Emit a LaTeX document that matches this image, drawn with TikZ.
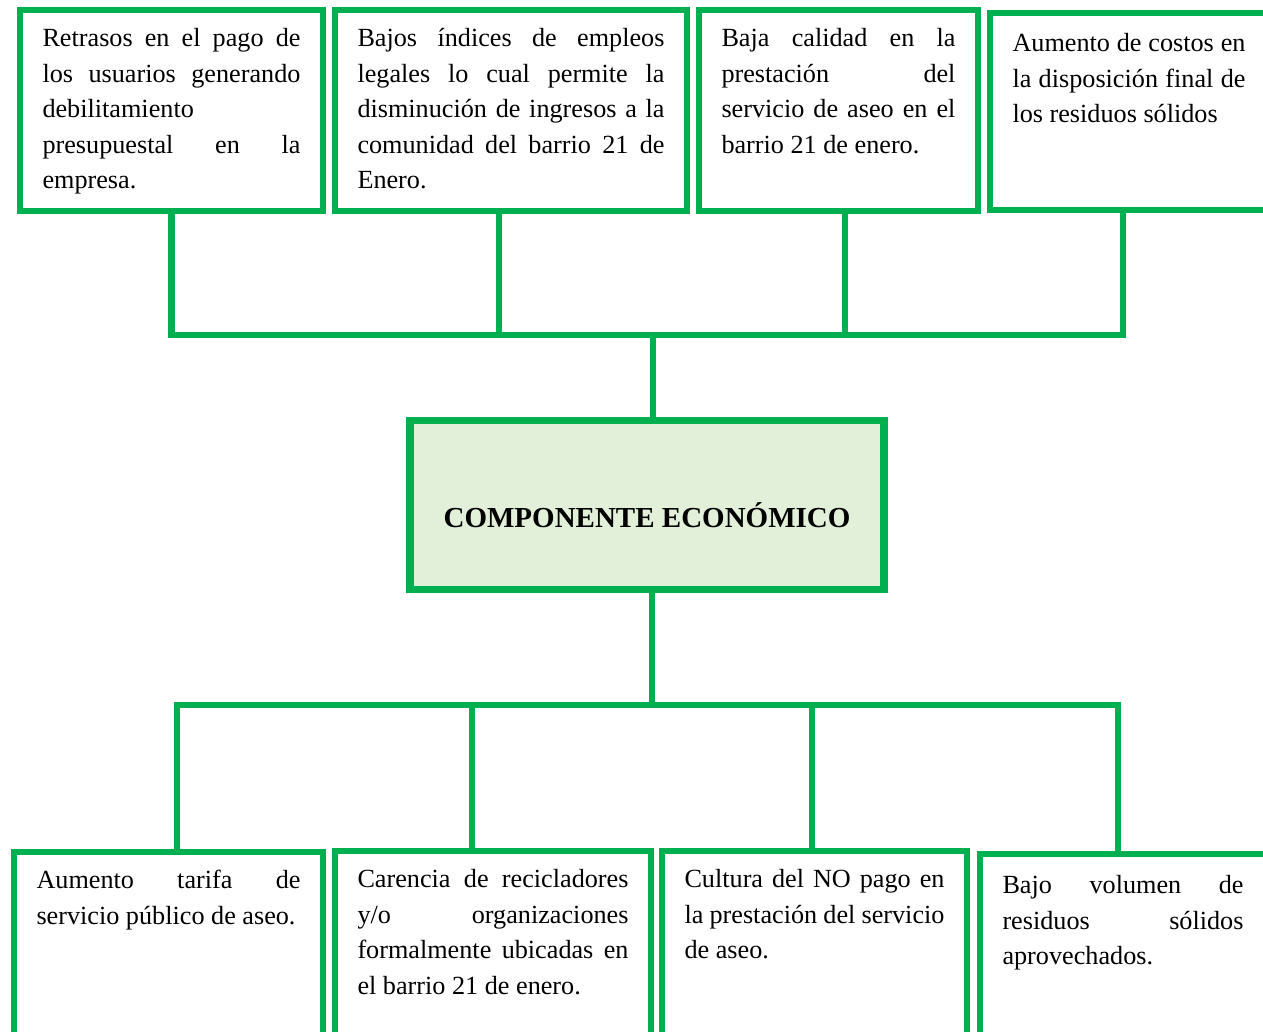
\documentclass[tikz,border=0pt]{standalone}
\usepackage{fontspec}
\setmainfont{Liberation Serif}
\usepackage{tikz}
\definecolor{verde}{RGB}{0,176,80}
\definecolor{verdeclaro}{RGB}{226,239,217}
\tolerance=9999
\hyphenpenalty=10000

\begin{document}
\begin{tikzpicture}[x=0.5pt, y=-0.5pt,
	caja/.style={draw=verde, line width=3pt, anchor=north west, outer sep=0pt,
		inner xsep=11.25pt, inner ysep=6pt, font=\fontsize{13.1}{17.75}\selectfont},
	central/.style={draw=verde, line width=3.6pt, fill=verdeclaro, outer sep=0pt,
		minimum width=237pt, minimum height=84.5pt, text height=22pt, text depth=0pt,
		font=\fontsize{14.5}{17}\selectfont\bfseries},
	enlace/.style={draw=verde, line width=3.2pt}]
		\useasboundingbox (0,0) rectangle (1263,1032);
		\clip (0,0) rectangle (1263,1032);
		% causas arriba
		\node[caja] (c1) at (20,10) {\parbox[t][88.5pt][t]{129pt}{\strut Retrasos en el pago de\linebreak los usuarios generando\linebreak debilitamiento\newline presupuestal en la\linebreak empresa.}};
		\node[caja] (c2) at (335,10) {\parbox[t][88.5pt][t]{153.5pt}{\strut Bajos índices de empleos\linebreak legales lo cual permite la\linebreak disminución de ingresos a la\linebreak comunidad del barrio 21 de\linebreak Enero.}};
		\node[caja] (c3) at (699,10) {\parbox[t][88.5pt][t]{117pt}{\strut Baja calidad en la\linebreak prestación del\linebreak servicio de aseo en el\linebreak barrio 21 de enero.}};
		\node[caja, inner ysep=7pt] (c4) at (990,13) {\parbox[t][84.5pt][t]{116.5pt}{\strut Aumento de costos en\linebreak la disposición final de\linebreak los residuos sólidos}};
		% componente
		\node[central] (centro) at (647,505) {COMPONENTE ECONÓMICO};
		% efectos abajo
		\node[caja] (c5) at (14,852) {\parbox[t][104pt][t]{132pt}{\strut Aumento tarifa de\linebreak servicio público de aseo.}};
		\node[caja] (c6) at (335,851) {\parbox[t][104pt][t]{135.5pt}{\strut Carencia de recicladores\linebreak y/o organizaciones\linebreak formalmente ubicadas en\linebreak el barrio 21 de enero.}};
		\node[caja] (c7) at (662,851) {\parbox[t][104pt][t]{130pt}{\strut Cultura del NO pago en\linebreak la prestación del servicio\linebreak de aseo.}};
		\node[caja, inner ysep=7.5pt] (c8) at (980,854) {\parbox[t][104pt][t]{120.5pt}{\strut Bajo volumen de\linebreak residuos sólidos\linebreak aprovechados.}};
		% conectores
		\coordinate (tbus) at (653,335);
		\coordinate (bbus) at (652,705);
		\draw[enlace] (c1.south) |- (tbus);
		\draw[enlace] ([xshift=-6pt]c2.south) |- (tbus);
		\draw[enlace] ([xshift=3.25pt]c3.south) |- (tbus);
		\draw[enlace] ([xshift=-3pt]c4.south) |- (tbus);
		\draw[enlace] (tbus) -- (tbus |- centro.north);
		\draw[enlace] (bbus |- centro.south) -- (bbus);
		\draw[enlace] (bbus) -| ([xshift=4.25pt]c5.north);
		\draw[enlace] (bbus) -| ([xshift=-10.5pt]c6.north);
		\draw[enlace] (bbus) -| ([xshift=-1.25pt]c7.north);
		\draw[enlace] (bbus) -| ([xshift=-2.5pt]c8.north);
	\end{tikzpicture}
\end{document}
